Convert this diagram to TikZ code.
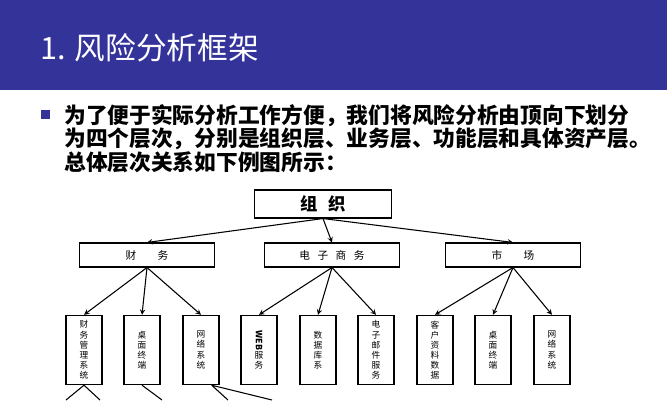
\documentclass[tikz,border=0pt]{standalone}
\usepackage{fontspec}
\setmainfont{Liberation Sans}
\newfontfamily\cjk{Noto Sans CJK SC}
\usetikzlibrary{positioning}
\definecolor{titleblue}{RGB}{51,51,153}
\begin{document}
\begin{tikzpicture}[x=0.75pt,y=-0.75pt,
  every node/.style={inner sep=0pt},
  topbox/.style={draw,thick,minimum width=103pt,minimum height=21pt,font=\cjk\bfseries\fontsize{13}{13}\selectfont},
  midbox/.style={draw,thick,minimum width=101pt,minimum height=18pt,font=\cjk\fontsize{8}{8}\selectfont},
  leafbox/.style={draw,thick,minimum width=27pt,minimum height=52pt,align=center,font=\cjk\fontsize{6.5}{7.6}\selectfont},
  arr/.style={->,>=stealth,thick}]
\useasboundingbox (0,0) rectangle (667,400);
\fill[titleblue] (0,0) rectangle (667,90);
\node[anchor=west,text=white,font=\cjk\fontsize{23}{23}\selectfont] (title) at (40,48) {1. 风险分析框架};
\fill[titleblue] (41,110) rectangle (50,119);
\node[anchor=north west,align=left,font=\cjk\bfseries\fontsize{16.3}{16.5}\selectfont] (intro) at (64,104)
  {为了便于实际分析工作方便，我们将风险分析由顶向下划分\\为四个层次，分别是组织层、业务层、功能层和具体资产层。\\总体层次关系如下例图所示：};
% levels
\node[topbox] (org) at (323,204) {组\hspace{0.6em}织};
\node[midbox] (fin) at (147,255) {财\hspace{2em}务};
\node[midbox] (ec) at (332,255) {电\hspace{0.7em}子\hspace{0.7em}商\hspace{0.7em}务};
\node[midbox] (mkt) at (513,255) {市\hspace{2em}场};
\foreach \n in {fin,ec,mkt} \draw[arr] (org.south) -- (\n.north);
% leaves
\node[leafbox] (l1) at (84,350) {财\\务\\管\\理\\系\\统};
\node[leafbox] (l2) at (142,350) {桌\\面\\终\\端};
\node[leafbox] (l3) at (201,350) {网\\络\\系\\统};
\node[leafbox] (l4) at (259,350) {\rotatebox{-90}{\textbf{WEB}}\\服\\务};
\node[leafbox] (l5) at (318,350) {数\\据\\库\\系};
\node[leafbox] (l6) at (376,350) {电\\子\\邮\\件\\服\\务};
\node[leafbox] (l7) at (435,350) {客\\户\\资\\料\\数\\据};
\node[leafbox] (l8) at (493,350) {桌\\面\\终\\端};
\node[leafbox] (l9) at (552,350) {网\\络\\系\\统};
\foreach \p/\a/\b/\c in {fin/l1/l2/l3,ec/l4/l5/l6,mkt/l7/l8/l9}
  \foreach \n in {\a,\b,\c} \draw[arr] (\p.south) -- (\n.north);
% lines leaving the page
\coordinate (e1) at (66,400); \coordinate (e2) at (100,400);
\coordinate (e3) at (162,400); \coordinate (e4) at (228,400); \coordinate (e5) at (272,400);
\draw[thick] (l1.south) -- (e1) (l1.south) -- (e2) (l2.south) -- (e3)
  ([xshift=8pt]l3.south) -- (e4) ([xshift=8pt]l3.south) -- (e5);
\end{tikzpicture}
\end{document}
